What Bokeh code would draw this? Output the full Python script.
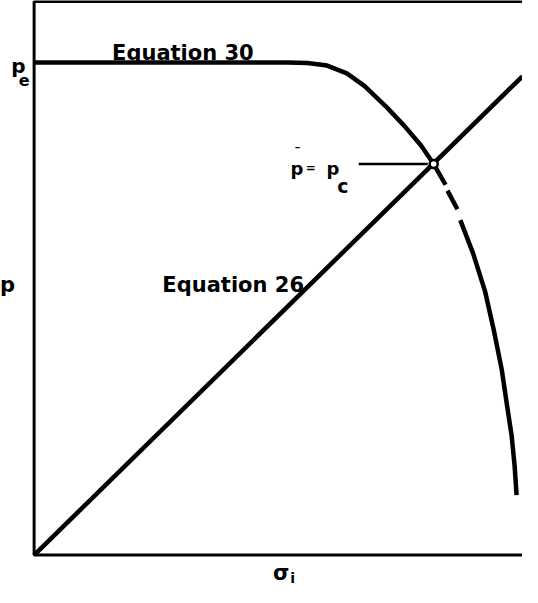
from bokeh.plotting import figure
from bokeh.models import Range1d
from bokeh.core.properties import value
from bokeh.embed import file_html
from bokeh.resources import INLINE

# ---- data (x = sigma_i, y = p, arbitrary units 0..100) ----
eq26_x = [0.0, 100.0]
eq26_y = [0.0, 86.5]

p_e = 88.97

eq30_upper_x = [0.0, 41.82, 51.92, 55.96, 60.00, 64.04, 67.68, 72.12, 75.76, 79.19, 81.82]
eq30_upper_y = [p_e, 88.97, 88.97, 88.88, 88.43, 87.01, 84.70, 80.96, 77.58, 74.02, 70.64]

eq30_dash_x = [[81.82, 84.24], [84.65, 86.67]]
eq30_dash_y = [[70.64, 66.90], [65.84, 62.46]]

eq30_lower_x = [87.27, 89.90, 92.32, 94.14, 95.76, 96.77, 97.78, 98.38, 98.79]
eq30_lower_y = [60.50, 54.45, 47.69, 40.57, 33.45, 27.40, 21.53, 16.19, 10.85]

pc_x = [81.82]
pc_y = [70.64]

pointer_x = [66.46, 80.6]
pointer_y = [70.64, 70.64]

frame_x = [100.0, 0.0, 0.0, 100.0]
frame_y = [100.0, 100.0, 0.0, 0.0]

FONT = value("DejaVu Sans")

p = figure(width=522, height=587, title=None,
           x_range=Range1d(-6.88, 100.0), y_range=Range1d(-5.85, 100.18),
           x_axis_type=None, y_axis_type=None,
           output_backend="svg", toolbar_location=None, min_border=0)
p.grid.visible = False
p.outline_line_color = None
p.background_fill_color = "white"
p.border_fill_color = "white"

# frame (left, top, bottom)
p.line(frame_x, frame_y, line_color="black", line_width=3)

# Equation 26 line
p.line(eq26_x, eq26_y, line_color="black", line_width=4.5)

# Equation 30 curve
p.line(eq30_upper_x, eq30_upper_y, line_color="black", line_width=4.5)
p.multi_line(eq30_dash_x, eq30_dash_y, line_color="black", line_width=4.5)
p.line(eq30_lower_x, eq30_lower_y, line_color="black", line_width=4.5)

# pointer to intersection
p.line(pointer_x, pointer_y, line_color="black", line_width=2.5)

# intersection marker
p.scatter(pc_x, pc_y, size=8, marker="circle", fill_color="white",
          line_color="black", line_width=2.5)

# texts
def txt(x, y, s, size, align="left", baseline="alphabetic"):
    p.text(x=[x], y=[y], text=[s], text_font=FONT, text_font_style="bold",
           text_font_size=f"{size}px", text_align=align, text_baseline=baseline,
           text_color="black")

txt(15.96, 90.75, "Equation 30", 21)
txt(26.26, 48.75, "Equation 26", 21)

# y-axis label and p_e
txt(-5.45, 48.75, "p", 21, align="center")
txt(-3.23, 88.26, "p", 20, align="center")
txt(-2.02, 85.77, "e", 16, align="center")

# p-bar = p_c
txt(53.84, 69.75, "p", 18, align="center")
txt(53.94, 72.6, "\u00af", 14, align="center")
txt(56.67, 69.9, "=", 12, align="center")
txt(61.21, 69.75, "p", 18, align="center")
txt(63.23, 66.73, "c", 19, align="center")

# sigma_i
txt(50.61, -3.2, "\u03c3", 21, align="center")
txt(52.93, -4.1, "i", 14, align="center")

open("out.html", "w").write(file_html(p, INLINE))
